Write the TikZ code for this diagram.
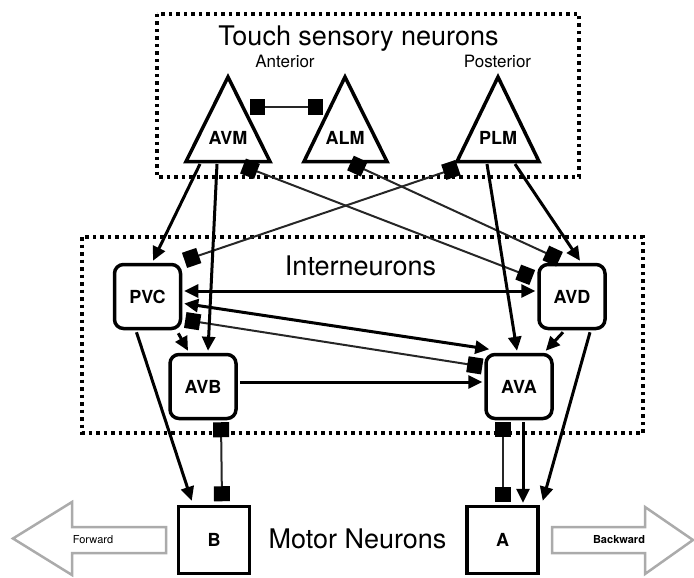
\documentclass[tikz,border=0pt]{standalone}
\usepackage{fontspec}
\setmainfont{TeX Gyre Heros}
\usetikzlibrary{arrows.meta,calc}
\begin{document}
\begin{tikzpicture}[x=1pt,y=-1pt,
  tri/.style={line width=3.5pt, line join=miter},
  lbl/.style={font=\fontsize{18}{20}\selectfont\bfseries, inner sep=0pt},
  title/.style={font=\fontsize{27}{30}\selectfont, inner sep=0pt, anchor=base},
  sub/.style={font=\fontsize{17}{19}\selectfont, inner sep=0pt, anchor=base},
  ibox/.style={draw, line width=3.5pt, rounded corners=9pt, minimum width=66pt, minimum height=64pt, inner sep=0pt, font=\fontsize{18}{20}\selectfont\bfseries},
  mbox/.style={draw, line width=3.5pt, minimum width=71pt, minimum height=67pt, inner sep=0pt, font=\fontsize{18}{20}\selectfont\bfseries},
  grp/.style={line width=3.5pt, dash pattern=on 3.5pt off 4pt},
  syn/.style={line width=3pt, -{Triangle[length=14pt,width=13pt]}},
  syn2/.style={line width=3pt, {Triangle[length=14pt,width=13pt]}-{Triangle[length=14pt,width=13pt]}},
  gap/.style={line width=2pt, draw=black!85, {Square[length=15pt,width=16pt,color=black]}-{Square[length=15pt,width=16pt,color=black]}},
  bigarrow/.style={draw=black!33, line width=2.5pt, line join=miter},
  dirtext/.style={font=\fontsize{11}{12}\selectfont, inner sep=0pt}
]
\useasboundingbox (0,0) rectangle (694,578);

% group boxes
\draw[grp] (157,14) rectangle (579,177);
\draw[grp] (82,237) rectangle (643,433);

% titles
\node[title] (ttouch) at (358.5,46) {Touch sensory neurons};
\node[sub] (tant) at (285,67) {Anterior};
\node[sub] (tpost) at (497.5,67) {Posterior};
\node[title] (tinter) at (360.5,275) {Interneurons};
\node[title] (tmotor) at (357.5,548) {Motor Neurons};

% sensory neurons (triangles)
\draw[tri] (228,77) -- (186,161.5) -- (270,161.5) -- cycle;
\draw[tri] (345,77) -- (304,161.5) -- (387,161.5) -- cycle;
\draw[tri] (498,77) -- (457,161.5) -- (539,161.5) -- cycle;
\node[lbl] (AVM) at (228,138) {AVM};
\node[lbl] (ALM) at (345,138) {ALM};
\node[lbl] (PLM) at (498,138) {PLM};

% interneurons
\node[ibox] (PVC) at (147.5,296.5) {PVC};
\node[ibox] (AVB) at (203,386.5) {AVB};
\node[ibox] (AVD) at (572,296.5) {AVD};
\node[ibox] (AVA) at (519,386.5) {AVA};

% motor neurons
\node[mbox] (B) at (214,540) {B};
\node[mbox] (A) at (502.5,540) {A};

% direction arrows
\draw[bigarrow] (13,538.5) -- (72,502) -- (72,527) -- (166,527) -- (166,553) -- (72,553) -- (72,575) -- cycle;
\draw[bigarrow] (552,527) -- (645,527) -- (645,507) -- (693,540) -- (645,574) -- (645,553) -- (552,553) -- cycle;
\node[dirtext] (fwd) at (93,540) {Forward};
\node[dirtext, font=\fontsize{11}{12}\selectfont\bfseries] (bwd) at (619,540) {Backward};

% gap junctions
\draw[gap] ($(AVM)+(22,-31)$) -- ($(ALM)+(-22,-31)$);
\draw[gap] ($(AVM)+(15,28)$) -- ($(AVD.west)+(-5,-19)$);
\draw[gap] ($(ALM)+(5.5,25)$) -- ($(AVD.north)+(-12.5,-3.5)$);
\draw[gap] ($(PLM)+(-40,29.5)$) -- ($(PVC.north east)+(2.3,-2.4)$);
\draw[gap] ($(PVC.east)+(3,23.5)$) -- ($(AVA.west)+(-2,-20)$);
\draw[gap] ($(AVB.south)+(18,2)$) -- ($(B.north)+(8,-3.5)$);
\draw[gap] ($(AVA.south)+(-16,2)$) -- ($(A.north)+(0.5,-3)$);

% chemical synapses
\draw[syn] ($(AVM)+(-28,26)$) -- ($(PVC.north)+(5.5,-2)$);
\draw[syn] ($(AVM)+(-11,26)$) -- ($(AVB.north)+(5,-2)$);
\draw[syn] ($(PLM)+(-11,26)$) -- ($(AVA.north)+(-2,-2)$);
\draw[syn] ($(PLM)+(17,26)$) -- ($(AVD.north)+(8,-2)$);
\draw[syn2] ($(PVC.east)+(2,-5.5)$) -- ($(AVD.west)+(-2,-5.5)$);
\draw[syn2] ($(PVC.east)+(2,7)$) -- ($(AVA.north west)+(5,-3.5)$);
\draw[syn] ($(AVB.east)+(2,-4.5)$) -- ($(AVA.west)+(-2,-4.5)$);
\draw[syn] ($(PVC.south east)+(-4,3)$) -- ($(AVB.north)+(-15,-2)$);
\draw[syn] ($(AVD.south)+(-9,2)$) -- ($(AVA.north east)+(-8,-2)$);
\draw[syn] ($(PVC.south)+(-11,2)$) -- ($(B.north west)+(15,-4)$);
\draw[syn] ($(AVA.south)+(4,2)$) -- ($(A.north)+(20.5,-2)$);
\draw[syn] ($(AVD.south)+(18,2)$) -- ($(A.north east)+(3,-4)$);
\end{tikzpicture}
\end{document}
